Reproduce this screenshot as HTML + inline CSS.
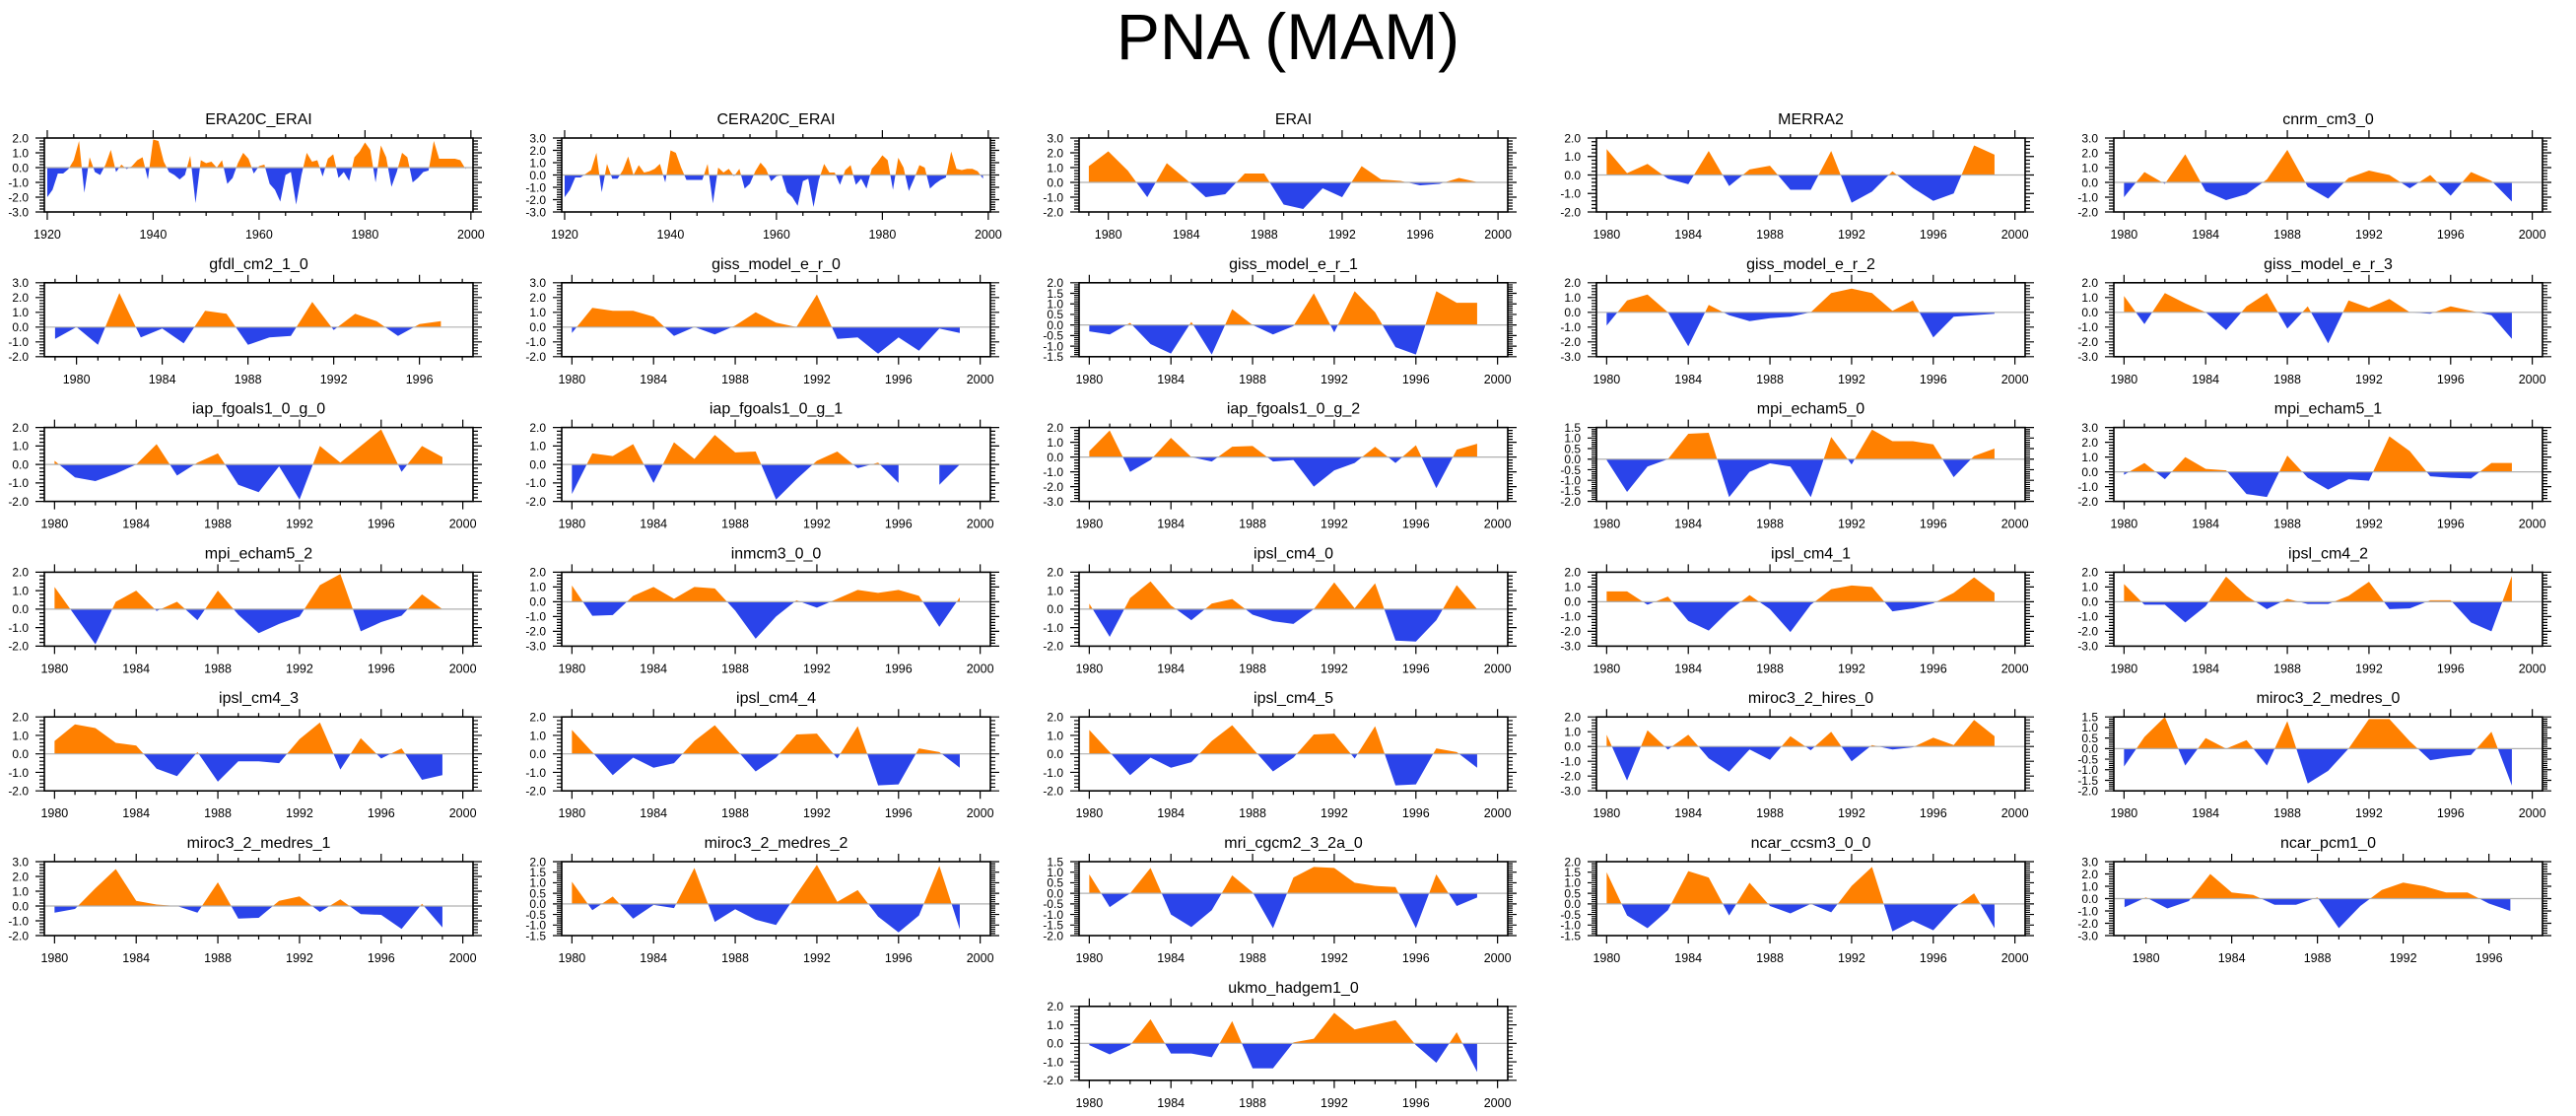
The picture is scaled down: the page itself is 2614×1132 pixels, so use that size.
<!DOCTYPE html>
<html>
<head>
<meta charset="utf-8">
<style>
html,body{margin:0;padding:0;background:#fff;}
svg{display:block;font-family:"Liberation Sans",Arial,sans-serif;}
</style>
</head>
<body>
<svg id="fig" width="2614" height="1132" viewBox="0 0 2614 1132" xmlns="http://www.w3.org/2000/svg">
<rect x="0" y="0" width="2614" height="1132" fill="#fff"/>
<text x="1307" y="60" text-anchor="middle" font-size="66" fill="#000">PNA (MAM)</text>
</svg>
<script>
// ---- data ----
const era20cVals = [-2.0,-1.5,-0.4,-0.4,-0.1,0.5,1.8,-1.7,0.7,-0.3,-0.5,0.2,1.2,-0.3,0.2,-0.1,0.1,0.5,0.7,-0.8,1.9,1.8,0.4,-0.3,-0.5,-0.8,-0.5,0.8,-2.4,0.5,0.3,0.4,0.0,0.5,-1.1,-0.7,0.3,1.0,0.6,-0.4,0.1,0.2,-1.1,-1.5,-2.3,-0.5,-0.3,-2.5,-0.5,1.0,0.4,0.5,-0.6,0.6,0.9,-0.7,-0.3,-0.9,0.7,1.1,1.7,1.2,-1.0,1.5,0.7,-1.3,-0.3,1.0,0.7,-1.0,-0.7,-0.3,-0.2,1.8,0.6,0.6,0.6,0.6,0.5,-0.1];
const cera20cVals = [-1.8,-1.2,-0.2,-0.2,0.1,0.4,1.8,-1.4,0.9,-0.3,-0.3,0.4,1.5,0.0,0.8,0.2,0.3,0.5,0.9,-0.6,2.0,1.8,0.6,-0.4,-0.4,-0.4,-0.4,0.9,-2.3,0.6,0.2,0.5,-0.1,0.5,-1.1,-0.7,0.3,1.0,0.5,-0.5,-0.1,0.0,-1.4,-1.8,-2.5,-0.5,-0.3,-2.6,-0.4,0.9,0.2,0.2,-0.8,0.4,0.8,-0.8,-0.3,-1.1,0.5,1.0,1.6,1.2,-1.2,1.4,0.6,-1.3,-0.3,0.8,0.6,-1.1,-0.7,-0.4,-0.2,1.9,0.5,0.4,0.5,0.5,0.3,-0.3];
const eraiVals = [1.1,2.1,0.8,-1.0,1.3,0.2,-1.0,-0.8,0.6,0.6,-1.5,-1.8,-0.4,-1.0,1.1,0.2,0.1,-0.2,-0.1,0.3,0.0];
const merra2Vals = [1.4,0.1,0.6,-0.2,-0.5,1.3,-0.6,0.3,0.5,-0.8,-0.8,1.3,-1.5,-0.9,0.2,-0.7,-1.4,-1.0,1.6,1.1];
const cnrmVals = [-1.0,0.7,-0.1,1.9,-0.6,-1.2,-0.8,0.2,2.2,-0.3,-1.1,0.3,0.8,0.5,-0.4,0.5,-0.9,0.7,0.1,-1.3];
const gfdlVals = [-0.8,0.0,-1.2,2.3,-0.7,-0.1,-1.1,1.1,0.9,-1.2,-0.7,-0.6,1.7,-0.2,0.9,0.4,-0.6,0.2,0.4];
const giss0Vals = [-0.4,1.3,1.1,1.1,0.7,-0.6,0.0,-0.5,0.1,1.0,0.3,0.0,2.2,-0.8,-0.7,-1.8,-0.7,-1.6,-0.1,-0.4];
const giss1Vals = [-0.3,-0.45,0.1,-0.9,-1.35,0.15,-1.4,0.75,0.0,-0.45,-0.05,1.5,-0.35,1.6,0.6,-1.05,-1.4,1.6,1.05,1.05];
const giss2Vals = [-0.9,0.8,1.2,0.0,-2.3,0.5,-0.2,-0.6,-0.4,-0.3,0.0,1.3,1.6,1.3,0.1,0.8,-1.7,-0.3,-0.2,-0.1];
const giss3Vals = [1.1,-0.8,1.3,0.6,0.0,-1.2,0.4,1.3,-1.1,0.4,-2.1,0.8,0.3,0.9,0.0,-0.1,0.4,0.1,-0.2,-1.8];
const iap0Vals = [0.2,-0.7,-0.9,-0.5,0.0,1.1,-0.6,0.1,0.6,-1.1,-1.5,-0.1,-1.9,1.0,0.1,1.0,1.9,-0.4,1.0,0.4];
const iap1Vals = [-1.6,0.6,0.45,1.1,-1.0,1.2,0.3,1.6,0.65,0.7,-1.9,-0.8,0.2,0.7,-0.2,0.1,-1.0,null,-1.1,0.0];
const iap2Vals = [0.4,1.8,-1.0,-0.2,1.3,0.0,-0.3,0.7,0.75,-0.3,-0.2,-2.0,-0.9,-0.4,0.7,-0.4,0.8,-2.1,0.5,0.9];
const mpi0Vals = [-0.05,-1.55,-0.35,0.0,1.2,1.25,-1.8,-0.6,-0.2,-0.35,-1.8,1.05,-0.25,1.4,0.85,0.85,0.7,-0.85,0.15,0.5];
const mpi1Vals = [-0.2,0.6,-0.5,1.0,0.2,0.1,-1.5,-1.7,1.1,-0.4,-1.2,-0.5,-0.6,2.4,1.4,-0.3,-0.4,-0.45,0.6,0.6];
const mpi2Vals = [1.2,-0.35,-1.9,0.4,1.0,-0.1,0.4,-0.6,1.0,-0.3,-1.3,-0.8,-0.4,1.3,1.9,-1.2,-0.7,-0.35,0.8,0.0];
const inmcmVals = [1.1,-0.95,-0.9,0.4,1.0,0.2,1.0,0.9,-0.6,-2.5,-1.0,0.1,-0.4,0.2,0.8,0.6,0.8,0.4,-1.7,0.3];
const ipsl0Vals = [0.3,-1.5,0.6,1.5,0.2,-0.6,0.3,0.55,-0.3,-0.65,-0.8,0.0,1.45,0.05,1.4,-1.7,-1.75,-0.6,1.3,0.0];
const ipsl1Vals = [0.7,0.7,-0.2,0.35,-1.3,-1.95,-0.6,0.45,-0.5,-2.05,-0.2,0.85,1.1,1.0,-0.65,-0.45,-0.1,0.6,1.65,0.6];
const ipsl2Vals = [1.2,-0.2,-0.2,-1.4,-0.3,1.7,0.4,-0.5,0.2,-0.15,-0.15,0.4,1.35,-0.5,-0.45,0.1,0.1,-1.4,-2.0,1.75];
const ipsl3Vals = [0.7,1.6,1.4,0.6,0.45,-0.8,-1.2,0.1,-1.5,-0.4,-0.4,-0.5,0.8,1.7,-0.85,0.85,-0.25,0.3,-1.4,-1.15];
const ipsl4Vals = [1.3,0.1,-1.15,-0.2,-0.75,-0.5,0.7,1.55,0.3,-0.95,-0.2,1.05,1.1,-0.25,1.5,-1.7,-1.65,0.3,0.1,-0.75];
const ipsl5Vals = [1.3,0.1,-1.15,-0.2,-0.75,-0.45,0.7,1.55,0.3,-0.95,-0.2,1.05,1.1,-0.25,1.5,-1.7,-1.65,0.3,0.1,-0.75];
const mirocHiVals = [0.8,-2.3,1.1,-0.2,0.8,-0.8,-1.7,-0.2,-0.9,0.7,-0.25,1.0,-1.0,0.1,-0.2,-0.05,0.6,0.1,1.8,0.7];
const mirocMed0Vals = [-0.85,0.55,1.5,-0.8,0.5,0.0,0.4,-0.8,1.3,-1.65,-1.05,0.0,1.4,1.4,0.35,-0.55,-0.4,-0.3,0.8,-1.75];
const mirocMed1Vals = [-0.45,-0.2,1.2,2.5,0.35,0.1,0.0,-0.45,1.6,-0.85,-0.8,0.35,0.65,-0.4,0.45,-0.55,-0.6,-1.55,0.15,-1.45];
const mirocMed2Vals = [1.05,-0.3,0.35,-0.7,-0.05,-0.2,1.7,-0.85,-0.25,-0.75,-1.0,0.45,1.85,0.1,0.65,-0.6,-1.35,-0.55,1.8,-1.2];
const mriVals = [0.9,-0.65,0.0,1.2,-1.0,-1.6,-0.8,0.85,0.05,-1.65,0.75,1.25,1.2,0.5,0.35,0.3,-1.65,0.9,-0.6,-0.2];
const ccsmVals = [1.5,-0.55,-1.15,-0.3,1.55,1.25,-0.55,1.0,-0.1,-0.45,0.0,-0.4,0.85,1.75,-1.3,-0.8,-1.25,-0.2,0.5,-1.15];
const pcmVals = [-0.7,0.1,-0.8,-0.2,2.0,0.5,0.3,-0.5,-0.5,0.1,-2.4,-0.6,0.7,1.3,1.0,0.5,0.5,-0.4,-1.0];
const ukmoVals = [-0.1,-0.6,-0.1,1.3,-0.55,-0.55,-0.75,1.2,-1.35,-1.35,0.05,0.25,1.65,0.75,1.0,1.25,-0.1,-1.05,0.6,-1.55];

const panelTitles = ["ERA20C_ERAI","CERA20C_ERAI","ERAI","MERRA2","cnrm_cm3_0","gfdl_cm2_1_0","giss_model_e_r_0","giss_model_e_r_1","giss_model_e_r_2","giss_model_e_r_3","iap_fgoals1_0_g_0","iap_fgoals1_0_g_1","iap_fgoals1_0_g_2","mpi_echam5_0","mpi_echam5_1","mpi_echam5_2","inmcm3_0_0","ipsl_cm4_0","ipsl_cm4_1","ipsl_cm4_2","ipsl_cm4_3","ipsl_cm4_4","ipsl_cm4_5","miroc3_2_hires_0","miroc3_2_medres_0","miroc3_2_medres_1","miroc3_2_medres_2","mri_cgcm2_3_2a_0","ncar_ccsm3_0_0","ncar_pcm1_0","ukmo_hadgem1_0"];
const panelSeries = [era20cVals,cera20cVals,eraiVals,merra2Vals,cnrmVals,gfdlVals,giss0Vals,giss1Vals,giss2Vals,giss3Vals,iap0Vals,iap1Vals,iap2Vals,mpi0Vals,mpi1Vals,mpi2Vals,inmcmVals,ipsl0Vals,ipsl1Vals,ipsl2Vals,ipsl3Vals,ipsl4Vals,ipsl5Vals,mirocHiVals,mirocMed0Vals,mirocMed1Vals,mirocMed2Vals,mriVals,ccsmVals,pcmVals,ukmoVals];
const panelStartYears = [1920,1920,1979,1980,1980,1979,1980,1980,1980,1980,1980,1980,1980,1980,1980,1980,1980,1980,1980,1980,1980,1980,1980,1980,1980,1980,1980,1980,1980,1979,1980];
const panelYMin = [-3,-3,-2,-2,-2,-2,-2,-1.5,-3,-3,-2,-2,-3,-2,-2,-2,-3,-2,-3,-3,-2,-2,-2,-3,-2,-2,-1.5,-2,-1.5,-3,-2];
const panelYMax = [2,3,3,2,3,3,3,2,2,2,2,2,2,1.5,3,2,2,2,2,2,2,2,2,2,1.5,3,2,1.5,2,3,2];
const panelXMin = [1919.45,1919.45,1978.5,1979.5,1979.5,1978.5,1979.5,1979.5,1979.5,1979.5,1979.5,1979.5,1979.5,1979.5,1979.5,1979.5,1979.5,1979.5,1979.5,1979.5,1979.5,1979.5,1979.5,1979.5,1979.5,1979.5,1979.5,1979.5,1979.5,1978.5,1979.5];
const panelXMax = [2000.4,2000.4,2000.5,2000.5,2000.5,1998.5,2000.5,2000.5,2000.5,2000.5,2000.5,2000.5,2000.5,2000.5,2000.5,2000.5,2000.5,2000.5,2000.5,2000.5,2000.5,2000.5,2000.5,2000.5,2000.5,2000.5,2000.5,2000.5,2000.5,1998.5,2000.5];
const panelCells = [[0,0],[1,0],[2,0],[3,0],[4,0],[0,1],[1,1],[2,1],[3,1],[4,1],[0,2],[1,2],[2,2],[3,2],[4,2],[0,3],[1,3],[2,3],[3,3],[4,3],[0,4],[1,4],[2,4],[3,4],[4,4],[0,5],[1,5],[2,5],[3,5],[4,5],[2,6]];

// ---- drawing ----
const NS = "http://www.w3.org/2000/svg";
const svg = document.getElementById("fig");
const PW = 435, PH = 75;
function mk(tag, attrs, parent){
  const e = document.createElementNS(NS, tag);
  for (const k in attrs) e.setAttribute(k, attrs[k]);
  parent.appendChild(e);
  return e;
}
function slug(s){ return s.toLowerCase().replace(/[^a-z0-9]+/g,'-'); }

panelTitles.forEach(function(title, i){
  const vals = panelSeries[i], y0yr = panelStartYears[i];
  const ymin = panelYMin[i], ymax = panelYMax[i];
  const xmin = panelXMin[i], xmax = panelXMax[i];
  const left = 45 + 525*panelCells[i][0];
  const top = 140 + 146.8*panelCells[i][1];
  const sx = function(v){ return left + (v - xmin)/(xmax - xmin)*PW; };
  const sy = function(v){ return top + (ymax - v)/(ymax - ymin)*PH; };
  const g = mk("g", {}, svg);
  
  

  // clips
  const z = sy(0);
  const cpA = mk("clipPath", {id:"ca"+i}, g);
  mk("rect", {x:left, y:top, width:PW, height:Math.max(0,z-top)}, cpA);
  const cpB = mk("clipPath", {id:"cb"+i}, g);
  mk("rect", {x:left, y:z, width:PW, height:Math.max(0,top+PH-z)}, cpB);

  // runs split on null
  const runs = []; let cur = [];
  vals.forEach(function(v, k){
    if (v === null) { if (cur.length) runs.push(cur); cur = []; }
    else cur.push([y0yr + k, v]);
  });
  if (cur.length) runs.push(cur);
  runs.forEach(function(run){
    if (run.length < 2) return;
    let pts = sx(run[0][0]).toFixed(2)+","+z.toFixed(2)+" ";
    run.forEach(function(p){ pts += sx(p[0]).toFixed(2)+","+sy(p[1]).toFixed(2)+" "; });
    pts += sx(run[run.length-1][0]).toFixed(2)+","+z.toFixed(2);
    const pa = mk("polygon", {points:pts, fill:"#ff8000", "clip-path":"url(#ca"+i+")"}, g);
    
    
    const pb = mk("polygon", {points:pts, fill:"#2a43ea", "clip-path":"url(#cb"+i+")"}, g);
    
    
  });

  // zero line
  const zl = mk("line", {x1:left, x2:left+PW, y1:z, y2:z, stroke:"#b0b0b0", "stroke-width":1.2}, g);
  
  

  // border
  const br = mk("rect", {x:left, y:top, width:PW, height:PH, fill:"none", stroke:"#000", "stroke-width":1.6}, g);
  
  

  // x ticks
  const long = (xmax - xmin) > 40;
  const majStep = long ? 20 : 4, minStep = long ? 5 : 1;
  let tp = "";
  for (let yr = Math.ceil(xmin/minStep)*minStep; yr <= xmax; yr += minStep) {
    const x = sx(yr).toFixed(2);
    const major = (yr % majStep === 0);
    const L = major ? 8 : 4;
    tp += "M"+x+","+top+"v"+(-L)+"M"+x+","+(top+PH)+"v"+L;
    if (major) {
      const t = mk("text", {x:x, y:(top+PH+27).toFixed(1), "text-anchor":"middle", "font-size":"12.5", fill:"#000"}, g);
      t.textContent = String(yr);
      
      
    }
  }
  // y ticks
  const yStep = ((ymax - ymin) % 1 !== 0) ? 0.5 : 1.0;
  const yMin = yStep / 5;
  const nMin = Math.round((ymax - ymin)/yMin);
  for (let k = 0; k <= nMin; k++) {
    const v = ymin + k*yMin;
    const y = sy(v).toFixed(2);
    const major = (k % 5 === 0);
    const L = major ? 9 : 5;
    tp += "M"+left+","+y+"h"+(-L)+"M"+(left+PW)+","+y+"h"+L;
    if (major) {
      const t = mk("text", {x:left-16, y:(sy(v)+4.3).toFixed(1), "text-anchor":"end", "font-size":"12", fill:"#000"}, g);
      t.textContent = v.toFixed(1);
      
      
    }
  }
  const tk = mk("path", {d:tp, stroke:"#000", "stroke-width":1.2, fill:"none"}, g);
  
  

  // title
  const tt = mk("text", {x:left+PW/2, y:top-14, "text-anchor":"middle", "font-size":"16", fill:"#000"}, g);
  tt.textContent = title;
  
  
});
</script>
</body>
</html>
